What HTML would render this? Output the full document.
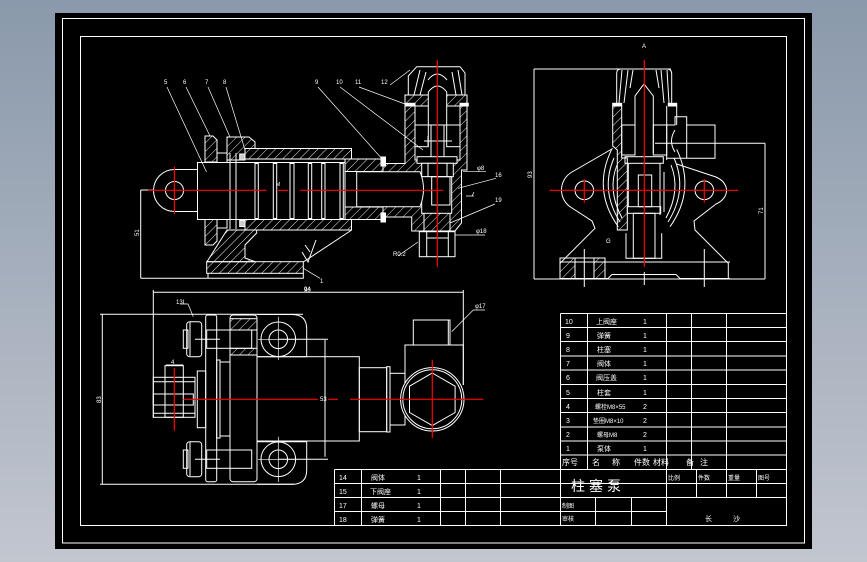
<!DOCTYPE html>
<html><head><meta charset="utf-8"><style>
html,body{margin:0;padding:0;width:867px;height:562px;overflow:hidden;background:#a4afbd;}
svg{display:block}
text{font-family:"Liberation Sans","Noto Sans CJK SC",sans-serif;fill:#fff;stroke:none;}
</style></head><body>
<svg width="867" height="562" viewBox="0 0 867 562" xmlns="http://www.w3.org/2000/svg">
<defs>
<linearGradient id="bg" x1="0" y1="0" x2="0" y2="1">
<stop offset="0" stop-color="#8a99ab"/><stop offset="1" stop-color="#c2c6cf"/></linearGradient>
<pattern id="h" width="6" height="6" patternUnits="userSpaceOnUse" patternTransform="rotate(45)"><line x1="0" y1="0" x2="0" y2="6" stroke="#fff" stroke-width="0.9"/></pattern>
</defs>
<rect width="867" height="562" fill="url(#bg)"/>
<rect x="55" y="13" width="757" height="536" fill="#000"/>
<g fill="none" stroke="#fff" stroke-width="1">
<rect x="62.5" y="18.5" width="742" height="524.5"/>
<rect x="80.5" y="36.5" width="706" height="489"/>
</g>

<!-- ============ MAIN SECTION VIEW ============ -->
<g fill="none" stroke="#fff" stroke-width="1">
<!-- left flange -->
<path d="M205,136 H213 L217,140 V162 H205 Z" fill="url(#h)"/>
<path d="M205,245 H213 L217,241 V219 H205 Z" fill="url(#h)"/>
<path d="M217,153 H227 V162 M217,228 H227 V219"/>
<path d="M227,137 H249 L255,142 V148.5 H245 V160 H227 Z" fill="url(#h)"/>
<!-- cylinder walls -->
<rect x="245" y="148.5" width="106.5" height="10.5" fill="url(#h)"/>
<rect x="245" y="219.5" width="106.5" height="10.5" fill="url(#h)"/>
<!-- lower body -->
<path d="M227,230 H256.7 V233 L245,245 V258 L255,261.7 H207 Z" fill="url(#h)"/>
<path d="M351.7,230 L303.3,262"/>
<rect x="206.7" y="261.7" width="96.6" height="11.6" fill="url(#h)"/>
<path d="M140.7,278.3 H303.3 V273.3"/>
<path d="M208,273.3 V278.3"/>
<!-- roughness mark -->
<path d="M302,252 L308,262 L316,240 M305,245 L310,252"/>
<!-- cap block -->
<rect x="345" y="159" width="38" height="12.5" fill="url(#h)"/>
<rect x="345" y="207" width="38" height="12.5" fill="url(#h)"/>
<rect x="381" y="157" width="4.5" height="9" fill="#fff"/>
<rect x="381" y="213" width="4.5" height="9" fill="#fff"/>
<!-- valve body -->
<path d="M383,163.5 H405 V95 H467 V170 H461.5 V223 L455,231 H411.7 V217 H383 Z" fill="url(#h)"/>
<path d="M408.3,95 V76 L416.7,66.7 H460 L465,73 V95 Z" fill="#000"/>
<path d="M414,95 L420,70 M420,95 L426,72 M452,72 L456,95 M458,70 L462,95 M428,80 Q437,68 447,80"/>
<rect x="405" y="103.3" width="10" height="2.7" fill="#fff"/>
<rect x="460" y="103.3" width="8.3" height="2.7" fill="#fff"/>
<rect x="415" y="106" width="45" height="54" fill="#000"/>
<path d="M428.3,125 V92 Q437.5,80 446.7,92 V125 Z" fill="#000"/>
<rect x="431" y="125" width="13" height="35"/>
<rect x="415" y="125" width="13.3" height="21.7"/>
<rect x="446.7" y="125" width="13.3" height="21.7"/>
<path d="M424,141 H452 M428,136 V146"/>
<rect x="417" y="156.7" width="40" height="6.6" fill="#000"/>
<rect x="421.7" y="163.3" width="31.6" height="13.4" fill="#000"/>
<path d="M428,163.3 V176.7 M447,163.3 V176.7"/>
<rect x="421.7" y="176.7" width="30" height="36.6" fill="#000"/>
<rect x="431.7" y="176.7" width="18.3" height="28.3"/>
<rect x="419.3" y="231.7" width="35.7" height="25" fill="#000"/>
<path d="M426.7,231.7 V256.7 M448.3,231.7 V256.7 M426.7,238 H448.3"/>
<path d="M424,213.3 V231.7 M450,213.3 V231.7"/>
<!-- plunger -->
<path d="M356.7,171.7 H420 Q427,189 420,206.7 H356.7 Z" fill="#000"/>
<!-- rod + pistons -->
<path d="M197,169.5 H174.5 A21,21 0 0 0 174.5,211.5 H197"/>
<circle cx="174.5" cy="190.5" r="9"/>
<rect x="197.5" y="162.5" width="147.5" height="57" fill="#000"/>
<path d="M230,153 V229 M236,153 V229"/>
<rect x="255" y="163.5" width="3.3" height="55"/>
<rect x="273.3" y="163.5" width="3.4" height="55"/>
<rect x="290" y="163.5" width="4" height="55"/>
<rect x="308.3" y="163.5" width="3.4" height="55"/>
<rect x="321.7" y="163.5" width="3.3" height="55"/>
<rect x="340" y="163.5" width="3.3" height="55"/>
<rect x="239.7" y="154" width="5.3" height="6" fill="#ccc"/>
<rect x="239.7" y="220.5" width="5.3" height="6" fill="#ccc"/>
<!-- dimension 51 -->
<path d="M140.7,190 V278.3 M140.7,190 H153"/>
</g>
<g stroke="#fff" stroke-width="0.7" fill="none">
<path d="M167,87 L206.5,172 M186,87 L210,136 M208,87 L230,137 M226,87 L245,150"/>
<path d="M318,87 L383,160 M340,87 L423,150 M359,87 L405,104 M390,85 L410,70"/>
<path d="M463,171.7 H486 M496,178.3 L458,188.3 M495,204 L450,223 M455,235 H485 M398,256 L418,242 M303.3,268.3 L320,278.3"/>
<path d="M466,196 H474 M472,196 L474,192"/>
</g>
<g font-size="6">
<text x="164" y="84">5</text><text x="183" y="84">6</text><text x="205" y="84">7</text><text x="223" y="84">8</text>
<text x="315" y="84">9</text><text x="336" y="84">10</text><text x="355" y="84">11</text><text x="381" y="84">12</text>
<text x="477" y="170">φ8</text><text x="495" y="177">16</text><text x="495" y="202">19</text><text x="476" y="233">φ18</text>
<text x="393" y="256">R0.2</text><text x="320" y="283">1</text><text x="304" y="292">90</text>
<text x="0" y="0" transform="translate(139,236) rotate(-90)">51</text>
<text x="276" y="186" font-size="5">M</text><text x="556" y="186" font-size="5"> </text>
</g>
<g stroke="#f00" stroke-width="1.2" fill="none">
<path d="M148,190.3 H266.7 M276.7,190.3 H288.3 M300,190.3 H443.3"/>
<path d="M174.4,166.7 V214"/>
<path d="M437.3,60 V266.7"/>
</g>

<!-- ============ RIGHT VIEW ============ -->
<g fill="none" stroke="#fff" stroke-width="1">
<path d="M534,69 V279 M534,69 H671 M534,279 H765 M765,143.3 V279 M655,143.3 H765"/>
<path d="M616.7,103 V73 Q616.7,69 621,69 H667 Q671.7,69 671.7,74 V103"/>
<path d="M622,70 L619,103 M628,70 L624,103 M633,70 L630,88 M656,70 L659,88 M661,70 L664,103 M667,70 L669,103"/>
<rect x="612.7" y="103.3" width="9" height="2.7" fill="#fff"/>
<rect x="668.3" y="103.3" width="8.4" height="2.7" fill="#fff"/>
<path d="M612.7,106 H621.7 V158 H627.3 V230 H617.3 V150 L612.7,146 Z" fill="url(#h)"/>
<path d="M666.7,106 V160 M676.7,106 V125"/>
<path d="M635,153 V96 L644,84 L653.3,96 V153"/>
<rect x="621.7" y="125" width="13.3" height="30"/>
<rect x="653.3" y="125" width="13.4" height="30"/>
<rect x="625" y="156.7" width="38.3" height="6.6"/>
<path d="M628.3,163.3 V206.7 M660,163.3 V206.7"/>
<rect x="638.3" y="175" width="13.4" height="31.7"/>
<rect x="627.3" y="206.7" width="33.4" height="6.6"/>
<rect x="633.3" y="213.3" width="21.7" height="45"/>
<path d="M626,233.3 V258.3 H661.7 V233.3"/>
<!-- outlet -->
<path d="M666.7,125 H675 V116.7 H686.7 V125 H715 V158.3 H666.7"/>
<path d="M686.7,125 V158.3 M675,130 Q668,141 675,152"/>
<!-- lobes -->
<path d="M612.7,148.5 L572,172 C558,180 558,200 572,208 L592,221 L595,228.3 L560,263.3 V278.3"/>
<path d="M676.7,164 L716,177 C730,183 730,198 716,204 L694,221 L695,230 L728.3,263.3 V278.3"/>
<circle cx="584.3" cy="190.3" r="9.3"/>
<circle cx="704.3" cy="190.3" r="9.3"/>
<!-- arcs -->
<path d="M611.7,149.3 Q592,190 618.3,226.7 M614,158 Q600,190 620,222 M617,165 Q607,190 622,218"/>
<path d="M676.7,149.3 Q696,190 670,226.7 M674,158 Q688,190 668,222 M671,165 Q681,190 666,218"/>
<path d="M660,175 V215 M664,172 V212"/>
<!-- base -->
<path d="M560,262 H730 M560,278.5 H608 L612,274.5 H676 L680,278.5 H730"/>
<rect x="560" y="258" width="15" height="20.5" fill="url(#h)"/>
<rect x="594" y="258" width="11" height="20.5" fill="url(#h)"/>
<path d="M584.3,249 V287 M704.3,249 V287 M644.3,272 V285 M575,258 H605"/>
</g>
<g font-size="6">
<text x="642" y="48">A</text>
<text x="606" y="243">G</text>
<text x="0" y="0" transform="translate(532,178) rotate(-90)">93</text>
<text x="0" y="0" transform="translate(763,214) rotate(-90)">71</text>
</g>
<g stroke="#f00" stroke-width="1.2" fill="none">
<path d="M644.3,60 V266.7 M549.3,190.3 H738.3 M584.3,179.3 V202.7 M704.3,179.3 V202.7"/>
</g>

<!-- ============ PLAN VIEW ============ -->
<g fill="none" stroke="#fff" stroke-width="1">
<path d="M153.3,292.3 H463.3 M153.3,290 V417.7 M463.3,290 V385 M102.3,314.3 V484.3 M100,314.3 H303 M100,484.3 H294"/>
<path d="M325,340 V456.7 M278,339.3 H328 M278,459.3 H328"/>
<!-- stub -->
<rect x="153.3" y="377.3" width="41.7" height="40"/>
<rect x="165" y="365.7" width="18.3" height="51.6"/>
<path d="M153.3,381.7 H195 M153.3,413.3 H195"/>
<rect x="153.3" y="394" width="40" height="11"/>
<path d="M166,365 H183.3"/>
<rect x="197.3" y="371" width="8.4" height="56.7"/>
<!-- plate -->
<rect x="205.7" y="315" width="11" height="166.7" rx="2"/>
<rect x="216.7" y="360" width="3.3" height="78"/>
<path d="M220,362 H230 M220,436 H230"/>
<rect x="230" y="315" width="27" height="166.7" rx="3"/>
<rect x="230" y="318.7" width="27" height="11.3" fill="url(#h)"/>
<rect x="230" y="348.3" width="27" height="6.7" fill="url(#h)"/>
<rect x="206.7" y="330" width="45" height="18.3"/>
<rect x="206.7" y="450" width="45" height="18.3"/>
<!-- bolts -->
<rect x="186.7" y="321.7" width="15" height="35" rx="3"/>
<rect x="183.3" y="330" width="4.7" height="18.3"/>
<rect x="186.7" y="441.7" width="15" height="35" rx="3"/>
<rect x="183.3" y="450" width="4.7" height="18.3"/>
<path d="M190,322 V356 M190,442 V476 M195,339.3 H220 M195,459.3 H220"/>
<!-- ears -->
<path d="M257,314.5 H292 Q306.7,314.5 306.7,329 V356.7 H257"/>
<path d="M257,441.7 H306.7 V470 Q306.7,484.3 292,484.3 H257"/>
<circle cx="278.3" cy="339.3" r="17.3"/><circle cx="278.3" cy="339.3" r="9.3"/>
<circle cx="278.3" cy="459.3" r="17.3"/><circle cx="278.3" cy="459.3" r="9.3"/>
<path d="M278.3,316.7 V360 M258,339.3 H298 M278.3,436.7 V482 M258,459.3 H298" stroke-width="0.7"/>
<!-- cylinder -->
<rect x="257" y="356.7" width="102.3" height="84.3"/>
<rect x="359.3" y="367.7" width="27.4" height="64"/>
<rect x="386.7" y="366.7" width="3.3" height="65.3"/>
<rect x="390" y="373.3" width="15" height="51.7"/>
<!-- outlet -->
<path d="M405,373 V345 H463.3 V385"/>
<rect x="413.3" y="320" width="36.7" height="25"/>
<path d="M448.3,320 V345"/>
<circle cx="432.3" cy="399.3" r="31.7" fill="#000"/>
<circle cx="432.3" cy="399.3" r="29.5"/>
<polygon points="432.3,373 455.1,386.2 455.1,412.5 432.3,425.6 409.5,412.5 409.5,386.2"/>
</g>
<g stroke="#fff" stroke-width="0.7" fill="none">
<path d="M180,304 H188 L193.3,316.7 M473.3,310 L451.7,331.7 M473,310 H485"/>
</g>
<g font-size="6">
<text x="176" y="304">13L</text>
<text x="475" y="308">φ17</text>
<text x="304" y="291">94</text>
<text x="171" y="364">4</text>
<text x="320" y="401">53</text>
<text x="0" y="0" transform="translate(101,403) rotate(-90)">83</text>
</g>
<g stroke="#f00" stroke-width="1.2" fill="none">
<path d="M183.3,399.3 H318 M328,399.3 H338 M350,399.3 H483.3"/>
<path d="M174.3,368 V430.7 M432.3,360 V438.3"/>
</g>

<!-- ============ PARTS TABLE ============ -->
<g fill="none" stroke="#fff" stroke-width="1">
<path d="M560.5,313.5 H786.5 M560.5,327.5 H786.5 M560.5,341.5 H786.5 M560.5,356 H786.5 M560.5,370 H786.5 M560.5,384.5 H786.5 M560.5,398.5 H786.5 M560.5,412.5 H786.5 M560.5,427 H786.5 M560.5,441 H786.5 M560.5,455 H786.5 M334.5,469.5 H786.5 M334.5,483.5 H786.5 M334.5,497.5 H786.5 M334.5,511.5 H666.5"/>
<path d="M560.5,313.5 V525.5 M587.5,313.5 V469.5 M666.5,313.5 V525.5 M691.5,313.5 V469.5 M726.5,313.5 V497.5 M696.5,469.5 V497.5 M756.5,469.5 V497.5"/>
<path d="M334.5,469.5 V525.5 M361.5,469.5 V525.5 M440.5,469.5 V525.5 M465.5,469.5 V525.5 M500.5,469.5 V525.5 M595.5,497.5 V525.5 M631.5,497.5 V525.5"/>
</g>
<g font-size="7">
<text x="565" y="324">10</text><text x="596" y="324">上阀座</text><text x="643" y="324">1</text>
<text x="566" y="338">9</text><text x="597" y="338">弹簧</text><text x="643" y="338">1</text>
<text x="566" y="352">8</text><text x="597" y="352">柱塞</text><text x="643" y="352">1</text>
<text x="566" y="366">7</text><text x="597" y="366">阀体</text><text x="643" y="366">1</text>
<text x="566" y="380">6</text><text x="596" y="380">阀压盖</text><text x="643" y="380">1</text>
<text x="566" y="395">5</text><text x="597" y="395">柱套</text><text x="643" y="395">1</text>
<text x="566" y="409">4</text><text x="595" y="409" font-size="6">螺栓M8×55</text><text x="643" y="409">2</text>
<text x="566" y="423">3</text><text x="593" y="423" font-size="6">垫圈M8×10</text><text x="643" y="423">2</text>
<text x="566" y="437">2</text><text x="597" y="437" font-size="6">螺母M8</text><text x="643" y="437">2</text>
<text x="566" y="451">1</text><text x="597" y="451">泵体</text><text x="643" y="451">1</text>
<text x="562" y="465" font-size="8">序号</text><text x="592" y="465" font-size="8">名</text><text x="612" y="465" font-size="8">称</text>
<text x="634" y="465" font-size="8">件数</text><text x="653" y="465" font-size="8">材料</text><text x="686" y="465" font-size="8">备</text><text x="700" y="465" font-size="8">注</text>
<text x="339" y="480">14</text><text x="371" y="480">阀体</text><text x="417" y="480">1</text>
<text x="339" y="494">15</text><text x="370" y="494">下阀座</text><text x="417" y="494">1</text>
<text x="339" y="508">17</text><text x="371" y="508">螺母</text><text x="417" y="508">1</text>
<text x="339" y="522">18</text><text x="371" y="522">弹簧</text><text x="417" y="522">1</text>
<text x="562" y="508" font-size="6">制图</text><text x="562" y="521" font-size="6">审核</text>
<text x="668" y="480" font-size="6">比例</text><text x="698" y="480" font-size="6">件数</text>
<text x="728" y="480" font-size="6">重量</text><text x="758" y="480" font-size="6">图号</text>
<text x="705" y="521">长</text><text x="733" y="521">沙</text>
</g>
<text x="571" y="491" font-size="14" letter-spacing="4">柱塞泵</text>
</svg>
</body></html>
